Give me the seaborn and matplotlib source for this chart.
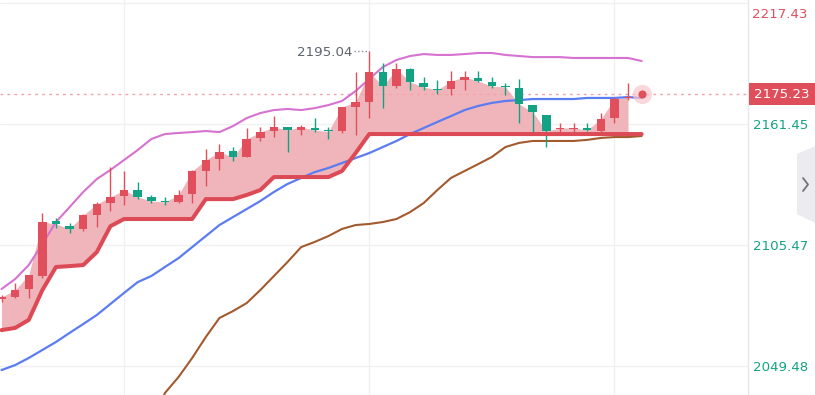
import numpy as np
import matplotlib
matplotlib.use('Agg')
from matplotlib import pyplot as plt
from matplotlib.patches import Rectangle, Polygon
import seaborn as sns

# candles (open, high, low, close), red = up, green = down
opens = [2080.5, 2081.4, 2085.1, 2091.1, 2116.6, 2114.2, 2112.9, 2119.3, 2124.9, 2128.1,
         2130.9, 2127.7, 2125.8, 2125.4, 2129.1, 2139.7, 2145.2, 2148.9, 2146.2, 2155.0,
         2158.2, 2160.0, 2158.7, 2159.6, 2158.7, 2158.2, 2169.3, 2171.6, 2185.5, 2179.0,
         2186.9, 2180.4, 2177.6, 2177.6, 2181.8, 2182.7, 2180.9, 2179.0, 2178.1, 2170.2,
         2165.6, 2159.1, 2159.1, 2159.6, 2158.2, 2164.2, 2173.5, 2174.9]
highs = [2082.3, 2087.9, 2091.8, 2120.3, 2117.9, 2115.6, 2119.6, 2125.3, 2141.5, 2139.7,
         2134.6, 2128.4, 2127.7, 2130.9, 2140.0, 2149.9, 2152.2, 2150.8, 2159.6, 2160.0,
         2165.1, 2160.2, 2161.0, 2164.2, 2160.0, 2169.5, 2185.5, 2195.04, 2189.7, 2189.7,
         2187.4, 2183.2, 2181.8, 2186.0, 2186.0, 2186.0, 2183.2, 2180.4, 2182.3, 2170.4,
         2165.8, 2161.9, 2161.9, 2161.9, 2166.5, 2173.9, 2180.4, 2175.5]
lows = [2079.1, 2080.9, 2080.9, 2090.2, 2113.3, 2111.0, 2112.0, 2113.8, 2121.2, 2124.0,
        2126.7, 2125.1, 2124.0, 2124.9, 2124.9, 2132.8, 2140.2, 2144.3, 2146.0, 2153.6,
        2155.4, 2148.5, 2156.3, 2157.7, 2154.5, 2157.3, 2156.3, 2164.2, 2168.8, 2178.1,
        2177.2, 2177.2, 2175.3, 2174.9, 2177.2, 2180.9, 2178.1, 2174.9, 2161.9, 2157.3,
        2150.8, 2157.7, 2157.9, 2158.2, 2157.7, 2161.9, 2172.5, 2174.8]
closes = [2081.4, 2084.6, 2091.6, 2116.1, 2115.2, 2112.9, 2119.3, 2124.4, 2127.7, 2130.9,
          2127.7, 2125.8, 2125.4, 2128.6, 2139.7, 2144.8, 2148.5, 2146.2, 2154.5, 2157.7,
          2160.0, 2158.7, 2160.0, 2158.7, 2158.0, 2169.3, 2171.6, 2185.5, 2179.0, 2186.9,
          2180.9, 2178.6, 2177.2, 2181.3, 2183.2, 2181.3, 2179.0, 2178.6, 2170.7, 2167.0,
          2158.2, 2159.6, 2159.6, 2158.7, 2163.7, 2173.0, 2173.9, 2175.23]

# band lines
upper = [2085.1, 2089.7, 2096.2, 2105.9, 2116.1, 2123.0, 2130.0, 2136.0, 2140.2, 2144.8,
         2149.4, 2154.5, 2156.8, 2157.3, 2157.7, 2158.2, 2157.7, 2160.5, 2164.2, 2166.5,
         2167.9, 2168.4, 2167.9, 2168.8, 2170.2, 2172.1, 2176.7, 2182.3, 2187.8, 2191.1,
         2192.9, 2193.8, 2193.4, 2193.4, 2193.8, 2194.3, 2194.3, 2193.4, 2192.9, 2192.4,
         2192.4, 2192.4, 2192.0, 2192.0, 2192.0, 2192.0, 2192.0, 2190.6]
middle = [2047.6, 2049.9, 2053.2, 2056.9, 2060.6, 2064.8, 2068.9, 2073.1, 2078.2, 2083.3,
          2088.3, 2091.1, 2095.3, 2099.4, 2104.5, 2109.6, 2114.7, 2118.4, 2122.1, 2125.8,
          2130.0, 2133.7, 2136.5, 2139.2, 2141.1, 2143.4, 2145.7, 2148.0, 2150.8, 2153.6,
          2156.8, 2159.6, 2162.4, 2165.1, 2167.9, 2169.8, 2171.2, 2172.1, 2172.5, 2173.0,
          2173.0, 2173.0, 2173.0, 2173.5, 2173.5, 2173.5, 2173.9, 2173.5]
lower = [np.nan] * 11 + [
    2022.2, 2037.0, 2044.4, 2053.2, 2062.9, 2071.7, 2074.9, 2078.6, 2084.6,
    2091.1, 2097.6, 2104.5, 2106.9, 2109.6, 2112.9, 2114.7, 2115.2, 2116.1, 2117.5,
    2120.7, 2124.9, 2130.9, 2136.5, 2139.7, 2142.9, 2146.2, 2150.8, 2152.7, 2153.6,
    2153.6, 2153.6, 2153.6, 2154.1, 2155.0, 2155.4, 2155.4, 2155.9]
# trailing stop
stop = [2066.1, 2067.1, 2070.8, 2084.6, 2095.3, 2095.7, 2096.2, 2102.2, 2114.2, 2117.5,
        2117.5, 2117.5, 2117.5, 2117.5, 2117.5, 2126.7, 2126.7, 2126.7, 2128.6, 2130.9,
        2136.9, 2136.9, 2136.9, 2136.9, 2136.9, 2139.7, 2148.0] + [2156.8] * 21

price_ticks = [2049.48, 2105.47, 2161.45, 2217.43]
last_price = 2175.23
peak_price = 2195.04

RED = '#e04f5b'
GREEN = '#13a384'

sns.set_style('white')
fig = plt.figure(figsize=(8.15, 3.95), dpi=100)
ax = fig.add_axes([0, 0, 748 / 815, 1])

idx = np.arange(len(closes))
o = np.array(opens)
c = np.array(closes)
up = c >= o

# fill between trailing stop and close
ax.fill_between(idx[:47], np.array(stop)[:47], c[:47], color='#f0b5ba', lw=0, zorder=1)

sns.lineplot(x=idx, y=upper, ax=ax, color='#d672d0', lw=1.5, zorder=2)
sns.lineplot(x=idx, y=middle, ax=ax, color='#5c7cf2', lw=1.6, zorder=2)
sns.lineplot(x=idx, y=lower, ax=ax, color='#a35a2e', lw=1.5, zorder=2)

colors = np.where(up, RED, GREEN)
ax.vlines(idx[:47], np.array(lows)[:47], np.array(highs)[:47], colors=colors[:47], lw=1, zorder=3)
body_low = np.minimum(o, c)
body_h = np.maximum(np.abs(c - o), 0.6)
ax.bar(idx[:47], body_h[:47], bottom=body_low[:47], width=0.62, color=colors[:47], lw=0, zorder=4)

sns.lineplot(x=idx, y=stop, ax=ax, color='#dc4a56', lw=2.9, zorder=5)

# current price line and dot
ax.axhline(last_price, color='#f2a3ab', lw=1, ls=(0, (2, 3)), zorder=1)
ax.scatter([idx[-1]], [last_price], s=190, color='#f7c6cb', alpha=0.7, lw=0, zorder=6)
ax.scatter([idx[-1]], [last_price], s=34, color=RED, lw=0, zorder=7)

# high marker
ax.text(25.75, peak_price - 0.6, '2195.04', ha='right', va='center', fontsize=9.6, color='#5f6370')
ax.plot([25.9, 27], [peak_price, peak_price], ls=':', color='#8a8e99', lw=1, zorder=5)

ax.set_xlim(-1.5 / 13.62, (748 - 1.5) / 13.62)
ax.set_ylim(2036.07, 2218.82)

ax.set_xticks([9, 27, 45])
ax.set_xticklabels([])
ax.set_yticks(price_ticks)
# top label is pushed down inside the frame, drawn separately below
ax.set_yticklabels([f'{v:.2f}' for v in price_ticks[:-1]] + [''])
ax.yaxis.tick_right()
ax.tick_params(axis='both', length=0)
ax.tick_params(axis='y', pad=3.5, labelsize=9.6)
for lab in ax.get_yticklabels():
    lab.set_color(GREEN)
ax.grid(True, color='#f0f0f3', lw=1)
ax.set_axisbelow(True)
for s in ['top', 'left', 'bottom']:
    ax.spines[s].set_visible(False)
ax.spines['right'].set_color('#e6e6ec')
ax.spines['right'].set_linewidth(1)
ax.set_xlabel('')
ax.set_ylabel('')

W, H = 815, 395
fig.text(752 / W, 1 - 14 / H, f'{price_ticks[-1]:.2f}', color=RED, fontsize=9.6,
         ha='left', va='center')

# last price tag on the axis
fig.patches.append(Rectangle((749 / W, 1 - 105 / H), 66 / W, 22 / H, transform=fig.transFigure,
                             facecolor='#df4e5b', edgecolor='none'))
fig.text(782 / W, 1 - 94 / H, f'{last_price:.2f}', color='white', fontsize=9.6,
         ha='center', va='center')

# collapse tab
tab = Polygon([(815 / W, 1 - 146 / H), (797 / W, 1 - 154 / H), (797 / W, 1 - 214 / H),
               (815 / W, 1 - 223 / H)], closed=True, transform=fig.transFigure,
              facecolor='#ececf0', edgecolor='none')
fig.patches.append(tab)
fig.lines.append(plt.Line2D([803 / W, 808 / W, 803 / W], [1 - 178 / H, 1 - 184.5 / H, 1 - 191 / H],
                            transform=fig.transFigure, color='#70737d', lw=1.3))

fig.savefig('out.png', dpi=100)
